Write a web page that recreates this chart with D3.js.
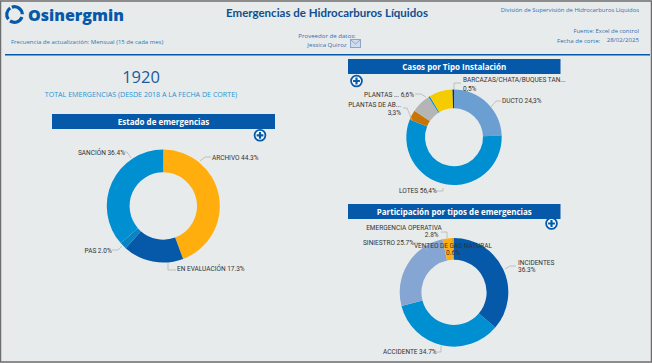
<!DOCTYPE html>
<html><head><meta charset="utf-8">
<script src="https://cdn.jsdelivr.net/npm/d3@7"></script>
<style>html,body{margin:0;padding:0;background:#e8ebec;overflow:hidden}svg{display:block}text{font-family:"Open Sans","DejaVu Sans",sans-serif}text.lab{font-family:Roboto,"Open Sans",sans-serif}text.ttl{font-family:Lato,"Open Sans",sans-serif}</style>
</head><body><svg id="c" width="652" height="363"></svg>
<script>
const estadoLabels=["ARCHIVO 44.3%","EN EVALUACIÓN 17.3%","PAS 2.0%","SANCIÓN 36.4%"];
const estadoValues=[44.3,17.3,2.0,36.4];
const estadoColors=["#ffae0d","#0559a8","#0a83c6","#008fd0"];
const casosValues=[24.3,56.4,3.3,6.6,0.5,7.9,0.5];
const casosColors=["#6b9fd2","#008fd0","#c87508","#b5b5b5","#008fd0","#f5cc00","#12324f"];
const tiposValues=[36.3,34.7,25.7,2.8,0.6];
const tiposColors=["#0559a8","#008fd0","#85a5d3","#ffae0d","#e9a00c"];
const svg=d3.select("#c");
const blue="#0559a8",txt="#2f6fb0",gr="#333333",LS=6.5;
svg.append("rect").attr("x",0.5).attr("y",1).attr("width",651).attr("height",361).attr("fill","#e8ebec").attr("stroke","#6e6e6e").attr("stroke-width",1.5);
function T(x,y,s,size,fill,anchor,weight){return svg.append("text").attr("x",x).attr("y",y).text(s).attr("font-size",size).attr("fill",fill).attr("text-anchor",anchor||"start").attr("font-weight",weight||400);}
function L(x,y,s,anchor){return T(x,y,s,LS,gr,anchor).attr("class","lab");}
function donut(vals,cols,cx,cy,ro,ri){
 const pie=d3.pie().sort(null).value(d=>d);
 const arc=d3.arc().innerRadius(ri).outerRadius(ro);
 svg.append("g").attr("transform",`translate(${cx},${cy})`).selectAll("path").data(pie(vals)).join("path").attr("d",arc).attr("fill",(d,i)=>cols[i]);
}
function leader(pts){svg.append("path").attr("d",d3.line()(pts)).attr("fill","none").attr("stroke","#b5b5b5").attr("stroke-width",0.8);}
function band(x,y,w,h,s,size){svg.append("rect").attr("x",x).attr("y",y).attr("width",w).attr("height",h).attr("fill",blue);
 T(x+w/2,y+h/2+3,s,size,"#fff","middle",700);}
function plus(x,y){const g=svg.append("g").attr("transform",`translate(${x},${y})`);
 g.append("circle").attr("r",5.4).attr("fill","#fff").attr("stroke",blue).attr("stroke-width",1.8);
 g.append("path").attr("d","M-3.4,0H3.4M0,-3.4V3.4").attr("stroke",blue).attr("stroke-width",2.2);}
// header logo: three curved strokes
const lg=svg.append("g").attr("transform","translate(14.5,14.5)");
const ringArc=d3.arc().innerRadius(6.2).outerRadius(9.4);
[[-0.35,1.55],[1.9,3.75],[4.05,5.7]].forEach(a=>lg.append("path").attr("d",ringArc({startAngle:a[0],endAngle:a[1]})).attr("fill",blue));
T(28,20.5,"Osinergmin",16,blue,"start",800);
T(327,16.5,"Emergencias de Hidrocarburos Líquidos",11.5,"#0f4f8f","middle",700).attr("class","ttl");
T(639,12,"División de Supervisión de Hidrocarburos Líquidos",5.9,txt,"end");
T(11,44,"Frecuencia de actualización:  Mensual (15 de cada mes)",6,"#2a77ad");
T(327,38,"Proveedor de datos:",6.1,txt,"middle");
T(327,47,"Jessica Quiroz",6.1,txt,"middle");
svg.append("rect").attr("x",350.5).attr("y",39.5).attr("width",10).attr("height",8).attr("fill","#cfdcec").attr("stroke","#8ba6c8");
svg.append("path").attr("d","M350.5,39.5L355.5,44L360.5,39.5").attr("fill","none").attr("stroke","#8ba6c8");
T(639,33,"Fuente:  Excel de control",5.9,txt,"end");
T(557,42.5,"Fecha de corte:",6.1,txt);
T(639,42,"28/02/2025",6.1,txt,"end");
svg.append("rect").attr("x",5).attr("y",54).attr("width",645).attr("height",1.5).attr("fill",blue);
// kpi
T(141,82.7,"1920",16.5,"#1c5a99","middle");
T(141,96.5,"TOTAL EMERGENCIAS (DESDE 2018 A LA FECHA DE CORTE)",7.1,"#1f95d3","middle");
// panel 1
band(52,114,223,15,"Estado de emergencias",8);
plus(260,135.3);
donut(estadoValues,estadoColors,163.3,206,56.5,33.7);
L(212,159.5,estadoLabels[0]);leader([[200,161],[205,157],[211,157]]);
L(177,271,estadoLabels[1]);leader([[168,263],[168,270],[176,270]]);
L(84.5,252.5,estadoLabels[2]);leader([[122,246],[118,250],[112,250]]);
L(78,154.5,estadoLabels[3]);leader([[131,158],[127,152],[122,152]]);
// panel 2
band(348,59,212.5,15,"Casos por Tipo Instalación",8);
plus(356.5,81);
donut(casosValues,casosColors,454,137.3,47.7,29);
L(463,82,"BARCAZAS/CHATA/BUQUES TAN...");L(463,91,"0,5%");leader([[454,89],[454,83],[461,83]]);
L(502,103,"DUCTO 24,3%");leader([[491,107],[496,101],[501,101]]);
L(399,193,"LOTES 56,4%");leader([[443,188],[443,191],[436,191]]);
L(401,107,"PLANTAS DE AB...","end");L(401,115,"3,3%","end");leader([[412,120],[407,108],[403,108]]);
L(414,97,"PLANTAS ... 6,6%","end");leader([[426,97],[421,94],[415,94]]);
// panel 3
band(348,204,212.5,15,"Participación por tipos de emergencias",8);
plus(551.5,223.5);
donut(tiposValues,tiposColors,454,292.3,54.3,32.6);
L(404,230,"EMERGENCIA OPERATIVA","middle");
L(431.7,237,"2.8%","middle");
leader([[447,238],[447,232],[441,232]]);
L(363,245,"SINIESTRO 25.7%");leader([[412,243],[420,243],[428,251]]);
L(453,247.5,"VENTEO DE GAS NATURAL","middle");
L(453,254.5,"0.6%","middle");
L(518,265,"INCIDENTES");L(518,272,"36.3%");leader([[505,269],[510,266],[516,266]]);
L(383,354,"ACCIDENTE 34.7%");leader([[441,346],[441,352],[435,352]]);
</script></body></html>
